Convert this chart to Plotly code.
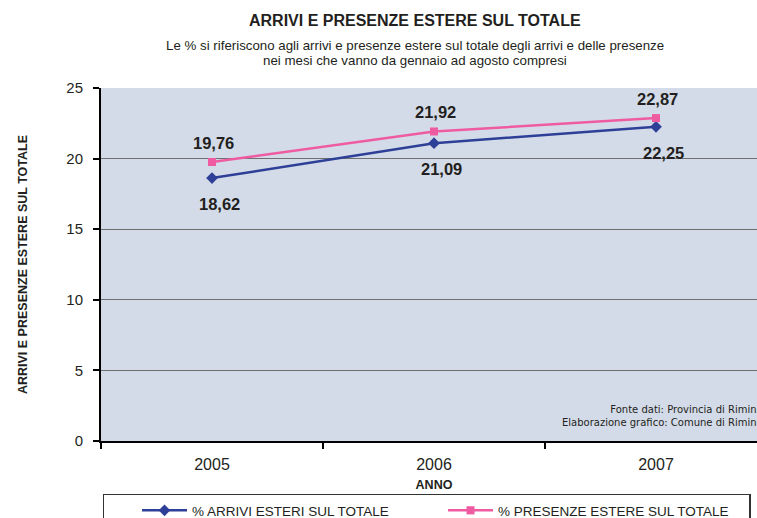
import plotly.graph_objects as go

anni = ["2005", "2006", "2007"]
arrivi = [18.62, 21.09, 22.25]
presenze = [19.76, 21.92, 22.87]
y_ticks = [0, 5, 10, 15, 20, 25]

TEXT = "#231f20"
FONT = "Liberation Sans, Arial, sans-serif"

def fmt(v):
    return f"{v:.2f}".replace(".", ",")

fig = go.Figure()
fig.add_trace(go.Scatter(
    x=anni, y=arrivi, name="% ARRIVI ESTERI SUL TOTALE",
    mode="lines+markers",
    line=dict(color="#2e3f98", width=2.5),
    marker=dict(symbol="diamond", size=9, color="#2e3f98"),
))
fig.add_trace(go.Scatter(
    x=anni, y=presenze, name="% PRESENZE ESTERE SUL TOTALE",
    mode="lines+markers",
    line=dict(color="#ef5ba1", width=2.5),
    marker=dict(symbol="square", size=8, color="#ef5ba1"),
))

label_font = dict(family=FONT, size=16.5, color=TEXT)
for i, v in enumerate(arrivi):
    fig.add_annotation(x=i, y=v, text="<b>" + fmt(v) + "</b>", showarrow=False,
                       yshift=-26, xshift=7, font=label_font)
for i, v in enumerate(presenze):
    fig.add_annotation(x=i, y=v, text="<b>" + fmt(v) + "</b>", showarrow=False,
                       yshift=19, xshift=1, font=label_font)

# titles (plot area spans x 101..767 px, y 88..441 px)
fig.add_annotation(xref="paper", yref="paper", x=0.4715, y=1.1926, xanchor="center", yanchor="middle",
                   showarrow=False, text="<b>ARRIVI E PRESENZE ESTERE SUL TOTALE</b>",
                   font=dict(family=FONT, size=16, color=TEXT))
fig.add_annotation(xref="paper", yref="paper", x=0.4715, y=1.1218, xanchor="center", yanchor="middle",
                   showarrow=False,
                   text="Le % si riferiscono agli arrivi e presenze estere sul totale degli arrivi e delle presenze",
                   font=dict(family=FONT, size=13.3, color=TEXT))
fig.add_annotation(xref="paper", yref="paper", x=0.4715, y=1.0765, xanchor="center", yanchor="middle",
                   showarrow=False,
                   text="nei mesi che vanno da gennaio ad agosto compresi",
                   font=dict(family=FONT, size=13.3, color=TEXT))

fig.add_annotation(
    xref="paper", yref="paper", x=1.0, y=0.071, xanchor="right", yanchor="middle",
    xshift=-6, showarrow=False, align="right",
    text="Fonte dati: Provincia di Rimini<br>Elaborazione grafico: Comune di Rimini",
    font=dict(family="DejaVu Sans, Verdana, sans-serif", size=10, color=TEXT),
)

fig.update_layout(
    width=767, height=530,
    margin=dict(l=101, r=0, t=88, b=89),
    paper_bgcolor="white", plot_bgcolor="#d4dbe8",
    font=dict(family=FONT, color=TEXT),
    showlegend=True,
    legend=dict(
        orientation="h", x=0.003, xanchor="left", y=-0.149, yanchor="top",
        bordercolor="#333333", borderwidth=1.5, bgcolor="white",
        font=dict(family=FONT, size=13.5, color=TEXT),
        title=dict(text="\u00a0" * 6, side="left", font=dict(size=13.5)),
        entrywidth=246, entrywidthmode="pixels",
        itemwidth=45,
    ),
    xaxis=dict(
        type="category", range=[-0.5, 2.5],
        tickson="boundaries", ticks="outside", ticklen=6, tickwidth=2, tickcolor="black",
        showline=True, linecolor="black", linewidth=2, showgrid=False,
        tickfont=dict(size=16, color=TEXT), ticklabelstandoff=8,
        title=dict(text="<b>ANNO</b>", font=dict(size=12.5), standoff=8),
    ),
    yaxis=dict(
        range=[0, 25], tickvals=y_ticks, ticks="outside", ticklen=6, tickwidth=2, tickcolor="black",
        showline=True, linecolor="black", linewidth=2,
        showgrid=True, gridcolor="#707070", gridwidth=1, zeroline=False,
        tickfont=dict(size=15, color=TEXT), ticklabelstandoff=7,
        title=dict(text="<b>ARRIVI E PRESENZE ESTERE SUL TOTALE</b>", font=dict(size=12.5), standoff=36),
    ),
)

fig.write_html("out.html", config={"displayModeBar": False},
               post_script="document.body.style.margin='0';document.body.style.overflow='hidden';")
